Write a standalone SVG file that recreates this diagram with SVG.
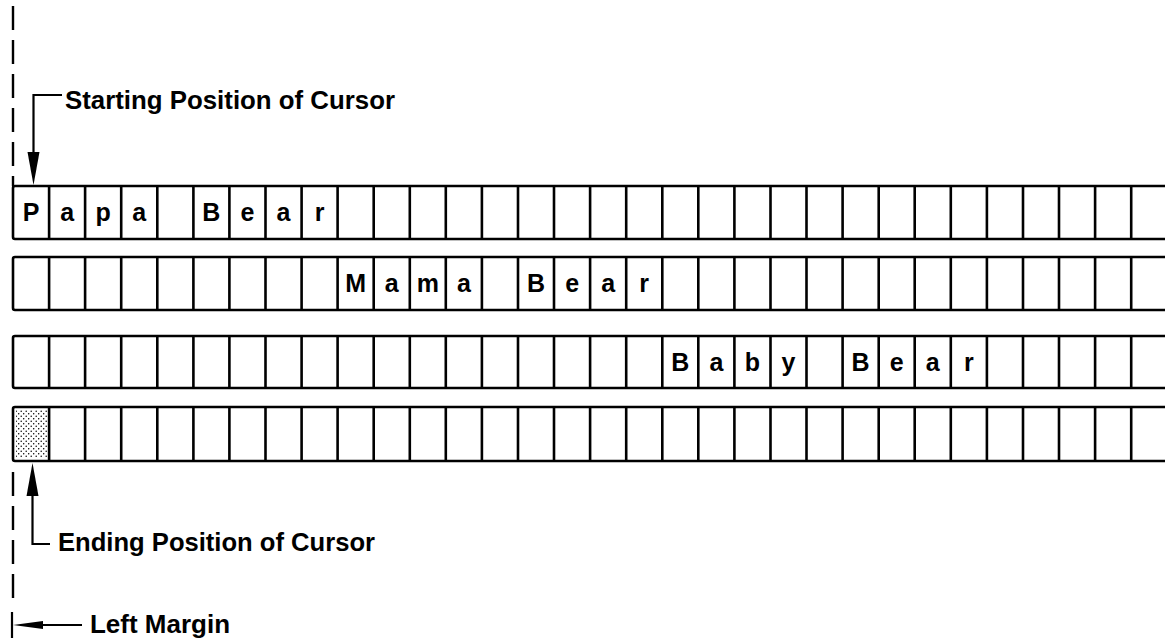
<svg xmlns="http://www.w3.org/2000/svg" width="1165" height="638" viewBox="0 0 1165 638">
<style>
.row{fill:none;stroke:#000;stroke-width:2.6}
.div{stroke:#000;stroke-width:2.6}
.ch{font-family:"Liberation Sans",Arial,sans-serif;font-weight:bold;font-size:25px;fill:#000;text-anchor:middle}
.lbl{font-family:"Liberation Sans",Arial,sans-serif;font-weight:bold;font-size:26px;fill:#000}
.ln{fill:none;stroke:#000;stroke-width:2.2}
.dash{fill:none;stroke:#000;stroke-width:2.4;stroke-dasharray:24 10}
</style>
<defs>
<pattern id="dots" width="5" height="5" patternUnits="userSpaceOnUse">
<circle cx="1.2" cy="1.2" r="0.75" fill="#000"/>
<circle cx="3.7" cy="3.7" r="0.75" fill="#000"/>
</pattern>
</defs>
<rect width="1165" height="638" fill="#fff"/>
<g id="margin-line">
<line class="dash" x1="13" y1="6" x2="13" y2="186"/>
<line class="dash" x1="13" y1="472" x2="13" y2="605"/>
</g>
<g id="row1">
<rect class="row" x="13" y="186" width="1170" height="53" rx="2"/>
<path class="div" d="M49.1,186V239M85.1,186V239M121.2,186V239M157.3,186V239M193.4,186V239M229.4,186V239M265.5,186V239M301.6,186V239M337.6,186V239M373.7,186V239M409.8,186V239M445.8,186V239M481.9,186V239M518,186V239M554,186V239M590.1,186V239M626.2,186V239M662.3,186V239M698.3,186V239M734.4,186V239M770.5,186V239M806.5,186V239M842.6,186V239M878.7,186V239M914.7,186V239M950.8,186V239M986.9,186V239M1023,186V239M1059,186V239M1095.1,186V239M1131.2,186V239"/>
<text class="ch" x="31" y="221">P</text>
<text class="ch" x="67.1" y="221">a</text>
<text class="ch" x="103.2" y="221">p</text>
<text class="ch" x="139.2" y="221">a</text>
<text class="ch" x="211.4" y="221">B</text>
<text class="ch" x="247.5" y="221">e</text>
<text class="ch" x="283.5" y="221">a</text>
<text class="ch" x="319.6" y="221">r</text>
</g>
<g id="row2">
<rect class="row" x="13" y="257" width="1170" height="53" rx="2"/>
<path class="div" d="M49.1,257V310M85.1,257V310M121.2,257V310M157.3,257V310M193.4,257V310M229.4,257V310M265.5,257V310M301.6,257V310M337.6,257V310M373.7,257V310M409.8,257V310M445.8,257V310M481.9,257V310M518,257V310M554,257V310M590.1,257V310M626.2,257V310M662.3,257V310M698.3,257V310M734.4,257V310M770.5,257V310M806.5,257V310M842.6,257V310M878.7,257V310M914.7,257V310M950.8,257V310M986.9,257V310M1023,257V310M1059,257V310M1095.1,257V310M1131.2,257V310"/>
<text class="ch" x="355.7" y="292">M</text>
<text class="ch" x="391.7" y="292">a</text>
<text class="ch" x="427.8" y="292">m</text>
<text class="ch" x="463.9" y="292">a</text>
<text class="ch" x="536" y="292">B</text>
<text class="ch" x="572.1" y="292">e</text>
<text class="ch" x="608.2" y="292">a</text>
<text class="ch" x="644.2" y="292">r</text>
</g>
<g id="row3">
<rect class="row" x="13" y="336" width="1170" height="52" rx="2"/>
<path class="div" d="M49.1,336V388M85.1,336V388M121.2,336V388M157.3,336V388M193.4,336V388M229.4,336V388M265.5,336V388M301.6,336V388M337.6,336V388M373.7,336V388M409.8,336V388M445.8,336V388M481.9,336V388M518,336V388M554,336V388M590.1,336V388M626.2,336V388M662.3,336V388M698.3,336V388M734.4,336V388M770.5,336V388M806.5,336V388M842.6,336V388M878.7,336V388M914.7,336V388M950.8,336V388M986.9,336V388M1023,336V388M1059,336V388M1095.1,336V388M1131.2,336V388"/>
<text class="ch" x="680.3" y="371">B</text>
<text class="ch" x="716.4" y="371">a</text>
<text class="ch" x="752.4" y="371">b</text>
<text class="ch" x="788.5" y="371">y</text>
<text class="ch" x="860.6" y="371">B</text>
<text class="ch" x="896.7" y="371">e</text>
<text class="ch" x="932.8" y="371">a</text>
<text class="ch" x="968.9" y="371">r</text>
</g>
<g id="row4">
<rect x="16" y="410" width="31" height="48" fill="url(#dots)"/>
<rect class="row" x="13" y="407" width="1170" height="54" rx="2"/>
<path class="div" d="M49.1,407V461M85.1,407V461M121.2,407V461M157.3,407V461M193.4,407V461M229.4,407V461M265.5,407V461M301.6,407V461M337.6,407V461M373.7,407V461M409.8,407V461M445.8,407V461M481.9,407V461M518,407V461M554,407V461M590.1,407V461M626.2,407V461M662.3,407V461M698.3,407V461M734.4,407V461M770.5,407V461M806.5,407V461M842.6,407V461M878.7,407V461M914.7,407V461M950.8,407V461M986.9,407V461M1023,407V461M1059,407V461M1095.1,407V461M1131.2,407V461"/>
</g>
<g id="connectors">
<path class="ln" d="M62,95H33.5V155"/>
<path d="M27.5,152L33.5,185L39.5,152Z" fill="#000"/>
<path class="ln" d="M32.5,494V544H50"/>
<path d="M26.5,496L32.5,463L38.5,496Z" fill="#000"/>
<path class="ln" d="M12,612V638M40,625H82"/>
<path d="M13,625L43,621L43,629Z" fill="#000"/>
</g>
<g id="labels">
<text class="lbl" x="65" y="109" textLength="330" lengthAdjust="spacingAndGlyphs">Starting Position of Cursor</text>
<text class="lbl" x="58" y="551" textLength="317" lengthAdjust="spacingAndGlyphs">Ending Position of Cursor</text>
<text class="lbl" x="90" y="633" textLength="140" lengthAdjust="spacingAndGlyphs">Left Margin</text>
</g>
</svg>
